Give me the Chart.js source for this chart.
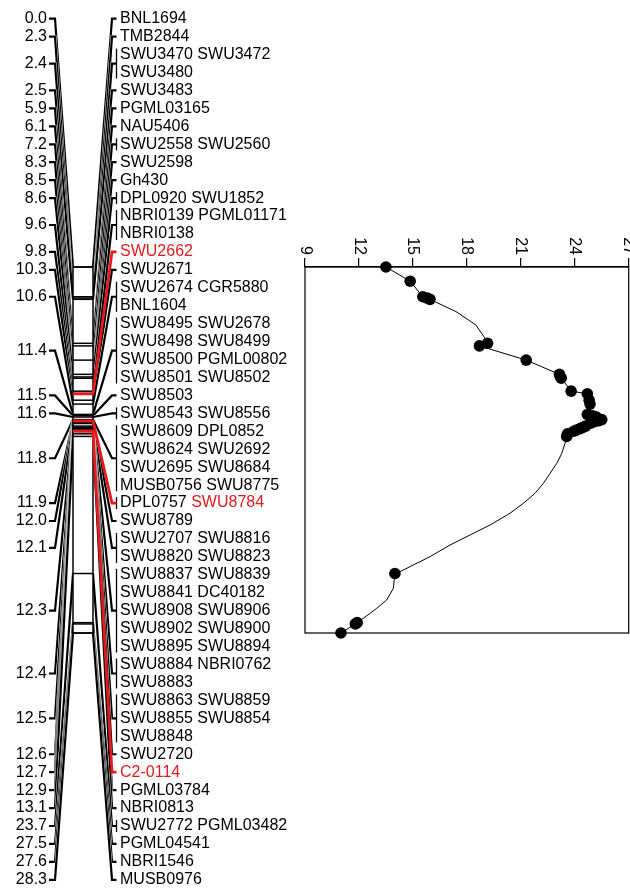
<!DOCTYPE html>
<html>
<head>
<meta charset="utf-8">
<script src="https://cdn.jsdelivr.net/npm/chart.js@4.4.1/dist/chart.umd.min.js"></script>
<style>
html, body { margin: 0; padding: 0; background: #fff; }
canvas { display: block; }
</style>
</head>
<body>
<canvas id="qtl" width="630" height="890"></canvas>
<script>
// linkage map: locus position (cM) and the marker rows printed beside it
var positions = [0.0, 2.3, 2.4, 2.5, 5.9, 6.1, 7.2, 8.3, 8.5, 8.6, 9.6, 9.8, 10.3, 10.6, 11.4, 11.5,
    11.6, 11.8, 11.9, 12.0, 12.1, 12.3, 12.4, 12.5, 12.6, 12.7, 12.9, 13.1, 23.7, 27.5, 27.6, 28.3];
var markerRows = [
    ["BNL1694"],
    ["TMB2844"],
    ["SWU3470 SWU3472", "SWU3480"],
    ["SWU3483"],
    ["PGML03165"],
    ["NAU5406"],
    ["SWU2558 SWU2560"],
    ["SWU2598"],
    ["Gh430"],
    ["DPL0920 SWU1852"],
    ["NBRI0139 PGML01171", "NBRI0138"],
    ["SWU2662"],
    ["SWU2671"],
    ["SWU2674 CGR5880", "BNL1604"],
    ["SWU8495 SWU2678", "SWU8498 SWU8499", "SWU8500 PGML00802", "SWU8501 SWU8502"],
    ["SWU8503"],
    ["SWU8543 SWU8556"],
    ["SWU8609 DPL0852", "SWU8624 SWU2692", "SWU2695 SWU8684", "MUSB0756 SWU8775"],
    ["DPL0757 SWU8784"],
    ["SWU8789"],
    ["SWU2707 SWU8816", "SWU8820 SWU8823"],
    ["SWU8837 SWU8839", "SWU8841 DC40182", "SWU8908 SWU8906", "SWU8902 SWU8900", "SWU8895 SWU8894"],
    ["SWU8884 NBRI0762", "SWU8883"],
    ["SWU8863 SWU8859", "SWU8855 SWU8854", "SWU8848"],
    ["SWU2720"],
    ["C2-0114"],
    ["PGML03784"],
    ["NBRI0813"],
    ["SWU2772 PGML03482"],
    ["PGML04541"],
    ["NBRI1546"],
    ["MUSB0976"]
];
var highlighted = ["SWU2662", "SWU8784", "C2-0114"];

// LOD profile, dots at the markers
var lodPos = [0.0, 1.1, 2.3, 2.4, 2.5, 5.9, 6.1, 7.2, 8.3, 8.5, 8.6, 9.6, 9.8, 10.3, 10.6, 11.4, 11.5,
    11.6, 11.8, 11.9, 12.0, 12.1, 12.3, 12.4, 12.5, 12.6, 12.7, 12.9, 13.1, 23.7, 27.5, 27.6, 28.3];
var lodVal = [13.5, 14.85, 15.55, 15.8, 15.95, 19.15, 18.7, 21.3, 23.15, 23.2, 23.25, 23.8, 24.7, 24.8, 24.85, 24.7, 25.0,
    25.2, 25.5, 25.3, 25.0, 24.85, 24.6, 24.45, 24.3, 24.1, 23.95, 23.6, 23.55, 14.0, 11.9, 11.8, 11.0];
// extra points of the curve between markers
var curvePos = [3.45, 4.48, 5.39, 13.63, 14.41, 15.18, 15.95, 16.72, 17.5, 18.27, 19.04, 19.95, 20.72,
    21.5, 22.4, 23.17, 23.56, 24.85, 25.75, 26.4, 26.8];
var curveVal = [17.4, 18.5, 18.95, 23.46, 23.28, 23.0, 22.63, 22.26, 21.79, 21.14, 20.4, 19.29, 18.18,
    17.06, 15.95, 14.84, 14.28, 13.91, 13.54, 12.98, 12.6];
var lodTicks = [9, 12, 15, 18, 21, 24, 27];

var FONT = '16px "Liberation Sans", Arial, sans-serif';
var RED = "#e8191c";

var dots = lodPos.map(function(p, i) { return {x: lodVal[i], y: p}; });
var curve = dots.concat(curvePos.map(function(p, i) { return {x: curveVal[i], y: p}; }));
curve.sort(function(a, b) { return a.y - b.y; });

function rowY(i) { return 18.7 + 17.94 * i; }

// line with a thin white edge, so crossing lines look like the original hatching
function haloLine(ctx, pts, color, w) {
    ctx.beginPath();
    ctx.moveTo(pts[0], pts[1]);
    for (var k = 2; k < pts.length; k += 2) ctx.lineTo(pts[k], pts[k + 1]);
    ctx.strokeStyle = "#fff";
    ctx.lineWidth = w + 0.8;
    ctx.stroke();
    ctx.strokeStyle = color;
    ctx.lineWidth = w;
    ctx.stroke();
}

var mapPlugin = {
    id: "linkageMap",
    afterDraw: function(chart) {
        var ctx = chart.ctx, y = chart.scales.y;
        var barL = 73, barR = 93;
        var top = y.getPixelForValue(y.min), bot = y.getPixelForValue(y.max);
        ctx.save();
        ctx.font = FONT;
        ctx.textBaseline = "middle";
        ctx.lineCap = "butt";
        ctx.lineJoin = "miter";

        var items = [];
        var row = 0;
        positions.forEach(function(p, i) {
            var rows = markerRows[i];
            var y0 = rowY(row), y1 = rowY(row + rows.length - 1);
            row += rows.length;
            var words = rows.join(" ").split(" ");
            var red = words.some(function(w) { return highlighted.indexOf(w) >= 0; });
            items.push({p: p, rows: rows, y0: y0, y1: y1, mid: (y0 + y1) / 2,
                by: y.getPixelForValue(p), n: words.length, red: red});
        });

        // connectors, label side to bar
        items.forEach(function(it) {
            haloLine(ctx, [49, it.mid, 55, it.mid, barL, it.by], "#000", 2.2);
            if (!it.red) haloLine(ctx, [barR, it.by, 112, it.mid, 116.5, it.mid], "#000", 2.2);
        });

        // chromosome bar
        ctx.fillStyle = "#fff";
        ctx.fillRect(barL, top, barR - barL, bot - top);
        ctx.strokeStyle = "#000";
        ctx.lineWidth = 1.5;
        ctx.strokeRect(barL, top, barR - barL, bot - top);
        items.forEach(function(it) {
            if (it.red) return;
            ctx.beginPath();
            ctx.moveTo(barL, it.by); ctx.lineTo(barR, it.by);
            ctx.stroke();
        });

        // brackets for loci with several markers
        ctx.lineWidth = 1.3;
        items.forEach(function(it) {
            if (it.n > 1) {
                ctx.beginPath();
                ctx.moveTo(116.5, it.y0 - 6); ctx.lineTo(116.5, it.y1 + 6);
                ctx.stroke();
            }
        });

        // highlighted loci on top
        ctx.strokeStyle = RED;
        ctx.lineWidth = 2.8;
        items.forEach(function(it) {
            if (!it.red) return;
            ctx.beginPath();
            ctx.moveTo(barL, it.by); ctx.lineTo(barR, it.by);
            ctx.lineTo(112, it.mid); ctx.lineTo(116.5, it.mid);
            ctx.stroke();
        });

        // text
        items.forEach(function(it) {
            ctx.fillStyle = "#000";
            ctx.textAlign = "right";
            ctx.fillText(it.p.toFixed(1), 47, it.mid);
            ctx.textAlign = "left";
            it.rows.forEach(function(r, k) {
                var x = 120, ry = it.y0 + (it.y1 - it.y0) * (it.rows.length > 1 ? k / (it.rows.length - 1) : 0);
                r.split(" ").forEach(function(w) {
                    ctx.fillStyle = highlighted.indexOf(w) >= 0 ? RED : "#000";
                    ctx.fillText(w, x, ry);
                    x += ctx.measureText(w + " ").width;
                });
            });
        });
        ctx.restore();
    }
};

var framePlugin = {
    id: "frame",
    beforeDatasetsDraw: function(chart) {
        var a = chart.chartArea, ctx = chart.ctx;
        ctx.save();
        ctx.strokeStyle = "#000";
        ctx.lineWidth = 1.2;
        ctx.strokeRect(a.left, a.top, a.right - a.left, a.bottom - a.top);
        ctx.restore();
    },
    afterDraw: function(chart) {
        var ctx = chart.ctx, sx = chart.scales.x, top = chart.chartArea.top;
        ctx.save();
        ctx.fillStyle = "#000";
        ctx.font = FONT;
        ctx.textAlign = "right";
        ctx.textBaseline = "middle";
        sx.ticks.forEach(function(t) {
            ctx.save();
            ctx.translate(sx.getPixelForValue(t.value), top - 12);
            ctx.rotate(Math.PI / 2);
            ctx.fillText(String(t.value), 0, 0);
            ctx.restore();
        });
        ctx.restore();
    }
};

new Chart(document.getElementById("qtl"), {
    type: "scatter",
    data: {
        datasets: [
            {
                data: curve,
                showLine: true,
                borderColor: "#000",
                borderWidth: 1,
                pointRadius: 0,
                clip: false
            },
            {
                data: dots,
                showLine: false,
                pointRadius: 5.8,
                backgroundColor: "#000",
                borderColor: "#000",
                borderWidth: 0,
                clip: false
            }
        ]
    },
    options: {
        responsive: false,
        animation: false,
        events: [],
        layout: { autoPadding: false, padding: { left: 305, right: 1.3, top: 258, bottom: 257 } },
        plugins: { legend: { display: false }, tooltip: { enabled: false } },
        scales: {
            x: {
                type: "linear",
                position: "top",
                min: 9,
                max: 27,
                afterBuildTicks: function(s) { s.ticks = lodTicks.map(function(v) { return {value: v}; }); },
                afterFit: function(s) { s.height = 9; },
                ticks: { display: false },
                grid: { drawOnChartArea: false, drawTicks: true, tickLength: 9, color: "#000", lineWidth: 1.2 },
                border: { display: true, color: "#000", width: 1.2 }
            },
            y: {
                type: "linear",
                min: 0,
                max: 28.3,
                reverse: true,
                display: false
            }
        }
    },
    plugins: [framePlugin, mapPlugin]
});
</script>
</body>
</html>
